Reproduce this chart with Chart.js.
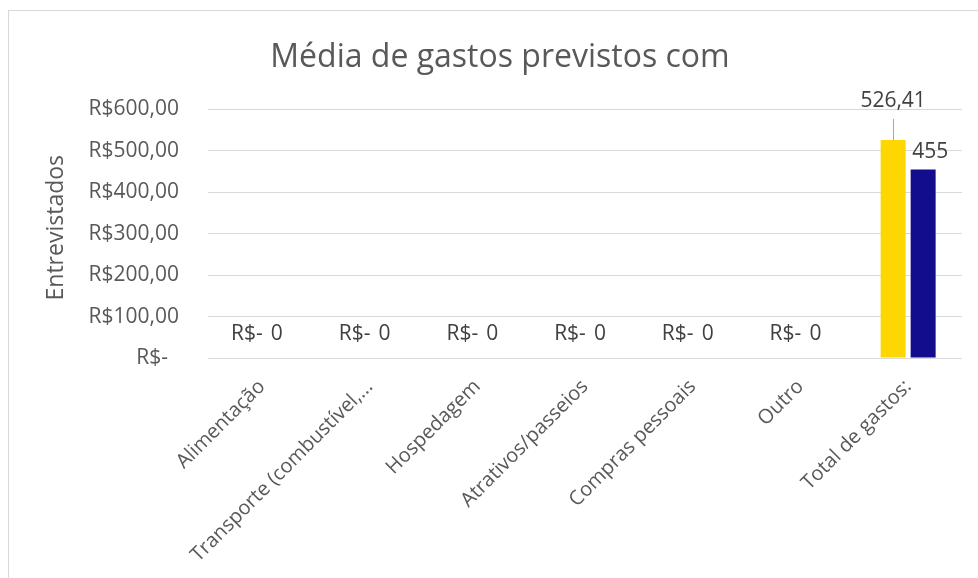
<!DOCTYPE html>
<html>
<head>
<meta charset="utf-8">
<script src="https://cdn.jsdelivr.net/npm/chart.js@4.4.0/dist/chart.umd.min.js"></script>
<style>
    html, body { margin: 0; padding: 0; background: #fff; overflow: hidden; }
    #frame { position: absolute; left: 8px; top: 10px; width: 1000px; height: 600px;
             border-left: 1px solid #d9d9d9; border-top: 1px solid #d9d9d9; }
    #chart { position: absolute; left: 9px; top: 11px; }
</style>
</head>
<body>
<div id="frame"></div>
<canvas id="chart" width="969" height="567"></canvas>
<script>
// Dados do gráfico
const categories = ['Alimentação', 'Transporte (combustível,...', 'Hospedagem', 'Atrativos/passeios',
                    'Compras pessoais', 'Outro', 'Total de gastos:'];
const mediaPrevista = [0, 0, 0, 0, 0, 0, 526.41];
const mediaGasta = [0, 0, 0, 0, 0, 0, 455];
const yTickLabels = ['R$-  ', 'R$100,00', 'R$200,00', 'R$300,00', 'R$400,00', 'R$500,00', 'R$600,00'];

const FONT = '"Open Sans", "Noto Sans", sans-serif';

// Rótulos de dados (estilo Excel)
const valueLabels = {
    id: 'valueLabels',
    afterDatasetsDraw(chart) {
        const ctx = chart.ctx;
        ctx.save();
        ctx.font = '21px ' + FONT;
        ctx.fillStyle = '#404040';
        ctx.textAlign = 'center';
        ctx.textBaseline = 'middle';
        chart.data.datasets.forEach((ds, di) => {
            chart.getDatasetMeta(di).data.forEach((bar, i) => {
                const v = ds.data[i];
                const nudge = (ds.labelNudge && ds.labelNudge[i]) || {};
                const dx = nudge.dx || 0;
                const dy = nudge.dy || (v === 0 ? 24 : 17);
                const x = bar.x + dx;
                const y = bar.y - dy;
                // linha de chamada do rótulo deslocado
                if (nudge.leader) {
                    ctx.strokeStyle = '#a6a6a6';
                    ctx.lineWidth = 1;
                    ctx.beginPath();
                    ctx.moveTo(Math.round(bar.x) + 0.5, y + 18);
                    ctx.lineTo(Math.round(bar.x) + 0.5, bar.y);
                    ctx.stroke();
                }
                ctx.fillText(ds.labelFormat(v), x, y);
            });
        });
        ctx.restore();
    }
};

new Chart(document.getElementById('chart'), {
    type: 'bar',
    data: {
        labels: categories,
        datasets: [{
            label: 'Média prevista',
            data: mediaPrevista,
            backgroundColor: '#FFD700',
            labelFormat: v => v === 0 ? 'R$-' : v.toFixed(2).replace('.', ','),
            labelNudge: { 6: { dy: 39, leader: true } },
            categoryPercentage: 0.557,
            barPercentage: 0.833
        }, {
            label: 'Média gasta',
            data: mediaGasta,
            backgroundColor: '#110D8C',
            labelFormat: v => String(v),
            labelNudge: { 6: { dx: 7, dy: 17 } },
            categoryPercentage: 0.557,
            barPercentage: 0.833
        }]
    },
    options: {
        responsive: false,
        devicePixelRatio: 1,
        animation: false,
        layout: { padding: { left: 29, right: 16, top: 0, bottom: 0 } },
        plugins: {
            legend: { display: false },
            tooltip: { enabled: false },
            title: {
                display: true,
                text: 'Média de gastos previstos com',
                color: '#595959',
                font: { family: FONT, size: 32, weight: 'normal' },
                padding: { top: 28, bottom: 32 }
            }
        },
        scales: {
            x: {
                grid: { display: false },
                border: { display: false },
                ticks: {
                    color: '#595959',
                    font: { family: FONT, size: 20 },
                    minRotation: 45,
                    maxRotation: 45,
                    autoSkip: false,
                    padding: 9
                },
                afterFit: scale => { scale.height = 220; }
            },
            y: {
                min: 0,
                max: 600,
                border: { display: false },
                grid: { color: '#d9d9d9', lineWidth: 1, drawTicks: false },
                ticks: {
                    stepSize: 100,
                    color: '#595959',
                    font: { family: FONT, size: 21 },
                    padding: 29,
                    callback: (v, i) => yTickLabels[i]
                },
                title: {
                    display: true,
                    text: '  Entrevistados',
                    color: '#595959',
                    font: { family: FONT, size: 23 },
                    padding: { top: 5, bottom: 0 }
                },
                afterFit: scale => { scale.width = 170; }
            }
        }
    },
    plugins: [valueLabels]
});
</script>
</body>
</html>
